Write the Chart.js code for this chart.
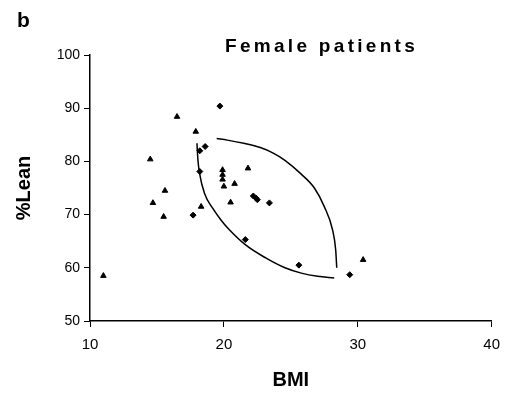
<!DOCTYPE html>
<html lang="en">
<head>
  <meta charset="UTF-8">
  <title>Female patients</title>
  <script src="https://cdn.jsdelivr.net/npm/chart.js"></script>
  <style>
    body { margin: 0; background: #fff; }
    .container { width: 509px; height: 393px; }
  </style>
</head>
<body>
  <div class="container">
    <canvas id="myChart" width="509" height="393"></canvas>
  </div>
  <script>
    // patients marked with a triangle
    const triBmi  = [11.0, 14.5, 14.7, 15.6, 15.5, 16.5, 17.9, 18.3, 19.9, 19.9, 19.9, 20.0, 20.8, 21.8, 20.5, 30.4]
    const triLean = [58.5, 80.4, 72.2, 74.5, 69.6, 88.4, 85.6, 71.5, 78.4, 77.5, 76.6, 75.3, 75.8, 78.7, 72.3, 61.5]

    // patients marked with a diamond
    const dotBmi  = [18.2, 18.6, 18.2, 17.7, 19.7, 22.2, 22.4, 22.5, 23.4, 21.6, 25.6, 29.4]
    const dotLean = [82.0, 82.8, 78.1, 69.9, 90.4, 73.5, 73.1, 72.8, 72.2, 65.3, 60.5, 58.7]

    // the two arcs of the outlined region
    const upperBmi  = [19.46, 20.26, 21.49, 22.72, 23.65, 24.56, 25.78, 26.76, 27.50, 28.11, 28.35, 28.43]
    const upperLean = [84.3, 84.0, 83.4, 82.6, 81.6, 80.2, 77.6, 75.0, 71.5, 67.2, 63.4, 60.0]
    const lowerBmi  = [17.99, 18.06, 18.18, 18.55, 19.16, 19.78, 20.39, 21.62, 23.09, 24.56, 25.78, 27.00, 28.24]
    const lowerLean = [83.4, 80.3, 77.8, 74.0, 71.2, 69.0, 67.2, 64.3, 61.9, 60.0, 59.0, 58.4, 58.1]

    const xTicks = [10, 20, 30, 40]
    const yTicks = [50, 60, 70, 80, 90, 100]

    const pairs = (xs, ys) => xs.map((x, i) => ({ x: x, y: ys[i] }))

    const fontFamily = '"Liberation Sans", Arial, sans-serif'

    // panel letter and heading, drawn on top of the plot
    const headings = {
      id: 'headings',
      afterDraw(chart) {
        const c = chart.ctx
        c.save()
        c.fillStyle = '#000'
        c.textBaseline = 'alphabetic'
        c.font = 'bold 21px ' + fontFamily
        c.fillText('b', 17, 27)
        c.font = 'bold 19px ' + fontFamily
        c.letterSpacing = '3.3px'
        c.fillText('Female patients', 225, 52)
        c.restore()
      }
    }

    const ctx = document.getElementById('myChart')

    new Chart(ctx, {
      type: 'scatter',
      data: {
        datasets: [
          {
            data: pairs(upperBmi, upperLean),
            showLine: true,
            borderColor: '#000',
            borderWidth: 1.5,
            pointRadius: 0,
            cubicInterpolationMode: 'monotone'
          },
          {
            data: pairs(lowerBmi, lowerLean),
            showLine: true,
            borderColor: '#000',
            borderWidth: 1.5,
            pointRadius: 0,
            cubicInterpolationMode: 'monotone'
          },
          {
            data: pairs(triBmi, triLean),
            pointStyle: 'triangle',
            pointRadius: 3.2,
            backgroundColor: '#000',
            borderColor: '#000',
            borderWidth: 1
          },
          {
            data: pairs(dotBmi, dotLean),
            pointStyle: 'rectRot',
            pointRadius: 3,
            backgroundColor: '#000',
            borderColor: '#000',
            borderWidth: 1
          }
        ]
      },
      options: {
        responsive: false,
        animation: false,
        devicePixelRatio: 1,
        layout: { padding: { top: 55, right: 12, left: 0, bottom: 0 } },
        plugins: {
          legend: { display: false },
          tooltip: { enabled: false }
        },
        scales: {
          x: {
            type: 'linear',
            min: xTicks[0],
            max: xTicks[xTicks.length - 1],
            afterBuildTicks: (scale) => { scale.ticks = xTicks.map(v => ({ value: v })) },
            afterFit: (scale) => { scale.height = 72 },
            grid: { drawOnChartArea: false, drawTicks: true, tickLength: 6, color: '#000' },
            border: { display: true, color: '#000', width: 1.5 },
            ticks: { color: '#000', padding: 9, font: { family: fontFamily, size: 15 } },
            title: {
              display: true,
              text: 'BMI',
              color: '#000',
              padding: { top: 0, bottom: 1 },
              font: { family: fontFamily, size: 20, weight: 'bold' }
            }
          },
          y: {
            min: yTicks[0],
            max: yTicks[yTicks.length - 1],
            afterBuildTicks: (scale) => { scale.ticks = yTicks.map(v => ({ value: v })) },
            afterFit: (scale) => { scale.width = 90 },
            grid: { drawOnChartArea: false, drawTicks: true, tickLength: 6, color: '#000' },
            border: { display: true, color: '#000', width: 1.5 },
            ticks: { color: '#000', padding: 4, font: { family: fontFamily, size: 14 } },
            title: {
              display: true,
              text: '%Lean',
              color: '#000',
              padding: { top: 12, bottom: 0 },
              font: { family: fontFamily, size: 20, weight: 'bold' }
            }
          }
        }
      },
      plugins: [headings]
    });
  </script>
</body>
</html>
